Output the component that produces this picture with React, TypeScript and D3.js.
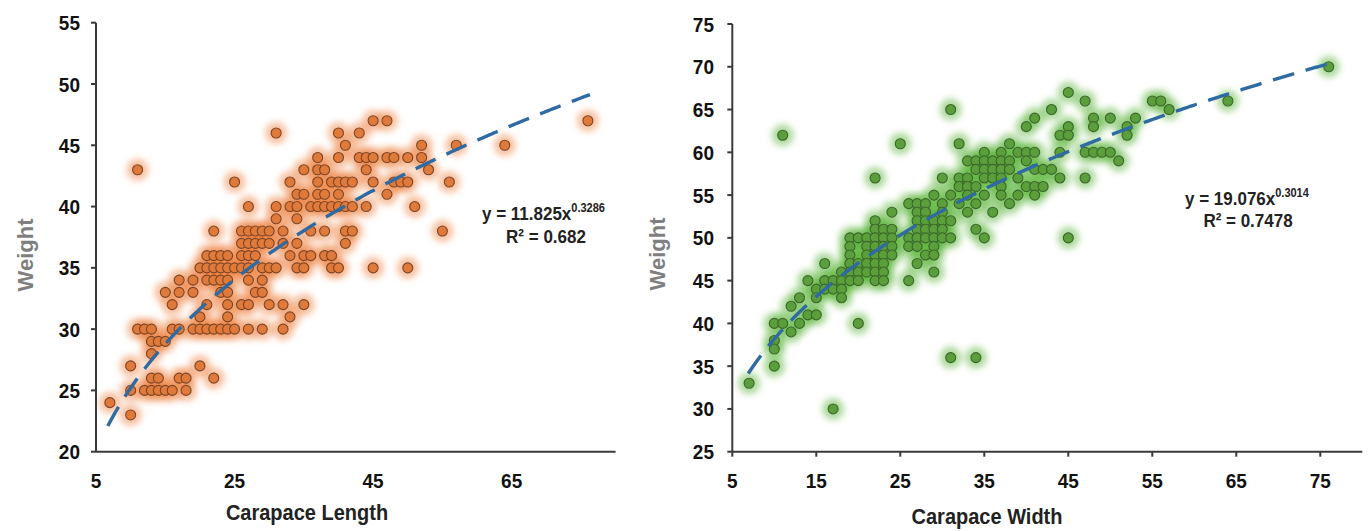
import React from 'react';
import * as d3 from 'd3';

// Carapace Length vs Weight  [length, weight]
const clPoints: number[][] = [
  [45,47],[47,47],[76,47],
  [31,46],[40,46],[43,46],
  [41,45],[52,45],[57,45],[64,45],
  [37,44],[40,44],[43,44],[44,44],[45,44],[47,44],[48,44],[50,44],[52,44],
  [11,43],[35,43],[37,43],[38,43],[44,43],[53,43],
  [25,42],[33,42],[37,42],[39,42],[40,42],[41,42],[42,42],[45,42],[48,42],[49,42],[50,42],[56,42],
  [34,41],[35,41],[37,41],[38,41],[40,41],[47,41],
  [27,40],[31,40],[33,40],[34,40],[36,40],[37,40],[38,40],[39,40],[40,40],[41,40],[42,40],[44,40],[51,40],
  [31,39],[34,39],
  [22,38],[26,38],[27,38],[28,38],[29,38],[30,38],[32,38],[36,38],[38,38],[41,38],[42,38],[55,38],
  [26,37],[27,37],[28,37],[29,37],[30,37],[32,37],[34,37],[41,37],
  [21,36],[22,36],[23,36],[24,36],[26,36],[27,36],[28,36],[33,36],[35,36],[36,36],[38,36],[39,36],
  [20,35],[21,35],[22,35],[23,35],[24,35],[25,35],[26,35],[27,35],[29,35],[30,35],[31,35],[34,35],[35,35],[39,35],[40,35],[45,35],[50,35],
  [17,34],[19,34],[21,34],[22,34],[23,34],[24,34],[27,34],[29,34],
  [15,33],[17,33],[19,33],[23,33],[24,33],[28,33],[29,33],
  [16,32],[21,32],[24,32],[26,32],[27,32],[30,32],[32,32],[35,32],
  [20,31],[24,31],[33,31],
  [11,30],[12,30],[13,30],[16,30],[17,30],[19,30],[20,30],[21,30],[22,30],[23,30],[24,30],[25,30],[27,30],[29,30],[32,30],
  [13,29],[14,29],[15,29],
  [13,28],
  [10,27],[20,27],
  [13,26],[14,26],[17,26],[18,26],[22,26],
  [10,25],[12,25],[13,25],[14,25],[15,25],[16,25],[18,25],
  [7,24],
  [10,23],
];

// Carapace Width vs Weight  [width, weight]
const cwPoints: number[][] = [
  [76,70],
  [45,67],
  [47,66],[55,66],[56,66],[64,66],
  [31,65],[43,65],[57,65],
  [41,64],[48,64],[50,64],[53,64],
  [40,63],[45,63],[48,63],[52,63],
  [11,62],[44,62],[45,62],[52,62],
  [25,61],[32,61],[38,61],
  [35,60],[37,60],[39,60],[40,60],[41,60],[44,60],[47,60],[48,60],[49,60],[50,60],
  [33,59],[34,59],[35,59],[36,59],[37,59],[38,59],[40,59],[51,59],
  [34,58],[35,58],[36,58],[37,58],[38,58],[41,58],[42,58],[43,58],
  [22,57],[30,57],[32,57],[33,57],[35,57],[36,57],[37,57],[39,57],[44,57],[47,57],
  [32,56],[33,56],[34,56],[37,56],[40,56],[41,56],[42,56],
  [29,55],[31,55],[33,55],[35,55],[37,55],[39,55],[41,55],
  [26,54],[27,54],[28,54],[30,54],[32,54],[34,54],[38,54],
  [24,53],[27,53],[28,53],[30,53],[33,53],[36,53],
  [22,52],[27,52],[28,52],[29,52],[30,52],[31,52],
  [22,51],[23,51],[24,51],[27,51],[28,51],[29,51],[30,51],[34,51],
  [19,50],[20,50],[21,50],[22,50],[23,50],[24,50],[26,50],[27,50],[28,50],[29,50],[30,50],[31,50],[35,50],[45,50],
  [19,49],[21,49],[22,49],[23,49],[24,49],[26,49],[27,49],[29,49],
  [19,48],[21,48],[22,48],[23,48],[24,48],[28,48],[29,48],
  [16,47],[19,47],[20,47],[21,47],[22,47],[23,47],[27,47],
  [18,46],[19,46],[20,46],[21,46],[22,46],[23,46],[29,46],
  [14,45],[16,45],[17,45],[18,45],[19,45],[20,45],[22,45],[23,45],[26,45],
  [15,44],[16,44],[17,44],[18,44],
  [13,43],[15,43],[18,43],
  [12,42],
  [14,41],[15,41],
  [10,40],[11,40],[13,40],[20,40],
  [12,39],
  [10,38],
  [10,37],
  [31,36],[34,36],
  [10,35],
  [7,33],
  [17,30],
];

const clXTicks = [5, 25, 45, 65];
const clYTicks = [20, 25, 30, 35, 40, 45, 50, 55];
const cwXTicks = [5, 15, 25, 35, 45, 55, 65, 75];
const cwYTicks = [25, 30, 35, 40, 45, 50, 55, 60, 65, 70, 75];

const clCoef = [11.825, 0.3286];
const cwCoef = [19.076, 0.3014];
const clTrendRange = [6.7, 76.3];
const cwTrendRange = [6.9, 76];

const FONT = "'Liberation Sans', Arial, Helvetica, sans-serif";

type PanelProps = {
  id: string;
  points: number[][];
  xDomain: number[];
  yDomain: number[];
  left: number; right: number; top: number; bottom: number;
  xTicks: number[]; yTicks: number[];
  xTickMarks: boolean;
  coef: number[]; trendRange: number[];
  fill: string; stroke: string; halo: string; haloOpacity: number;
  xTitle: string; xTitleX: number; xTitleY: number;
  yTitleX: number; yTitleY: number;
  yLabelX: number;
  eqX: number; eqY: number; eqExp: string; eqMain: string;
  r2X: number; r2Y: number; r2: string;
};

function Panel(p: PanelProps) {
  const x = d3.scaleLinear().domain(p.xDomain).range([p.left, p.right]);
  const y = d3.scaleLinear().domain(p.yDomain).range([p.bottom, p.top]);
  const trend = d3.range(p.trendRange[0], p.trendRange[1] + 0.0001, 0.2)
    .map(v => [v, p.coef[0] * Math.pow(v, p.coef[1])]);
  const line = d3.line<number[]>().x(d => x(d[0])).y(d => y(d[1]))(trend) || '';
  return (
    <g>
      <defs>
        <filter id={`blur-${p.id}`} x="-20%" y="-20%" width="140%" height="140%">
          <feGaussianBlur stdDeviation="3.3" />
        </filter>
      </defs>
      {/* halos */}
      <g filter={`url(#blur-${p.id})`}>
        {p.points.map((d, i) => (
          <circle key={i} cx={x(d[0])} cy={y(d[1])} r={11} fill={p.halo} fillOpacity={p.haloOpacity} />
        ))}
      </g>
      {/* markers */}
      {p.points.map((d, i) => (
        <circle key={i} cx={x(d[0])} cy={y(d[1])} r={5} fill={p.fill} stroke={p.stroke} strokeWidth={1.1} />
      ))}
      {/* trend line */}
      <path d={line} fill="none" stroke="#2f6aa3" strokeWidth={3.4} strokeDasharray="22,12" />
      {/* axes */}
      <line x1={p.left} x2={p.left} y1={p.top} y2={p.bottom} stroke="#3a3a3a" strokeWidth={2} />
      <line x1={p.left} x2={p.right} y1={p.bottom} y2={p.bottom} stroke="#3a3a3a" strokeWidth={2} />
      {p.yTicks.map(t => (
        <g key={`yt${t}`}>
          <line x1={p.left - 5} x2={p.left} y1={y(t)} y2={y(t)} stroke="#3a3a3a" strokeWidth={2} />
          <text transform={`translate(${p.yLabelX},${y(t)}) scale(1,1.1)`} dy="0.36em" textAnchor="end"
            fontFamily={FONT} fontWeight="bold" fontSize={19} fill="#111">{t}</text>
        </g>
      ))}
      {p.xTicks.map(t => (
        <g key={`xt${t}`}>
          {p.xTickMarks && <line x1={x(t)} x2={x(t)} y1={p.bottom} y2={p.bottom + 5} stroke="#3a3a3a" strokeWidth={2} />}
          <text transform={`translate(${x(t)},${488}) scale(1,1.1)`} textAnchor="middle"
            fontFamily={FONT} fontWeight="bold" fontSize={19} fill="#111">{t}</text>
        </g>
      ))}
      <text transform={`translate(${p.xTitleX},${p.xTitleY}) scale(1,1.1)`} textAnchor="middle"
        fontFamily={FONT} fontWeight="bold" fontSize={20} fill="#222">{p.xTitle}</text>
      <text transform={`translate(${p.yTitleX},${p.yTitleY}) rotate(-90)`} textAnchor="middle"
        fontFamily={FONT} fontWeight="bold" fontSize={22} fill="#7f7f7f">Weight</text>
      <text transform={`translate(${p.eqX},${p.eqY}) scale(1,1.1)`} textAnchor="start"
        fontFamily={FONT} fontWeight="bold" fontSize={17} fill="#222">
        {p.eqMain}<tspan fontSize={11} dy={-7}>{p.eqExp}</tspan>
      </text>
      <text transform={`translate(${p.r2X},${p.r2Y}) scale(1,1.1)`} textAnchor="middle"
        fontFamily={FONT} fontWeight="bold" fontSize={17} fill="#222">{p.r2}</text>
    </g>
  );
}

export default function App() {
  return (
    <svg width={1370} height={531} style={{ position: 'absolute', left: 0, top: 0, background: '#fff' }}>
      <rect x={0} y={0} width={1370} height={531} fill="#fff" />
      <Panel
        id="cl" points={clPoints}
        xDomain={[5, 80]} yDomain={[20, 55]}
        left={96} right={615.6} top={22.7} bottom={451.7}
        xTicks={clXTicks} yTicks={clYTicks} xTickMarks={false}
        coef={clCoef} trendRange={clTrendRange}
        fill="#e07a3a" stroke="#7c4526" halo="#ee7a36" haloOpacity={0.45}
        xTitle="Carapace Length" xTitleX={307} xTitleY={520}
        yTitleX={33} yTitleY={255} yLabelX={80}
        eqX={482} eqY={220} eqMain="y = 11.825x" eqExp="0.3286"
        r2X={546} r2Y={243} r2="R² = 0.682"
      />
      <Panel
        id="cw" points={cwPoints}
        xDomain={[5, 80]} yDomain={[25, 75]}
        left={732.3} right={1362.3} top={24} bottom={451.7}
        xTicks={cwXTicks} yTicks={cwYTicks} xTickMarks={true}
        coef={cwCoef} trendRange={cwTrendRange}
        fill="#5b9e3c" stroke="#3b672a" halo="#4eb02a" haloOpacity={0.45}
        xTitle="Carapace Width" xTitleX={987} xTitleY={524}
        yTitleX={665} yTitleY={254} yLabelX={714}
        eqX={1185} eqY={205} eqMain="y = 19.076x" eqExp="0.3014"
        r2X={1248} r2Y={227} r2="R² = 0.7478"
      />
    </svg>
  );
}
